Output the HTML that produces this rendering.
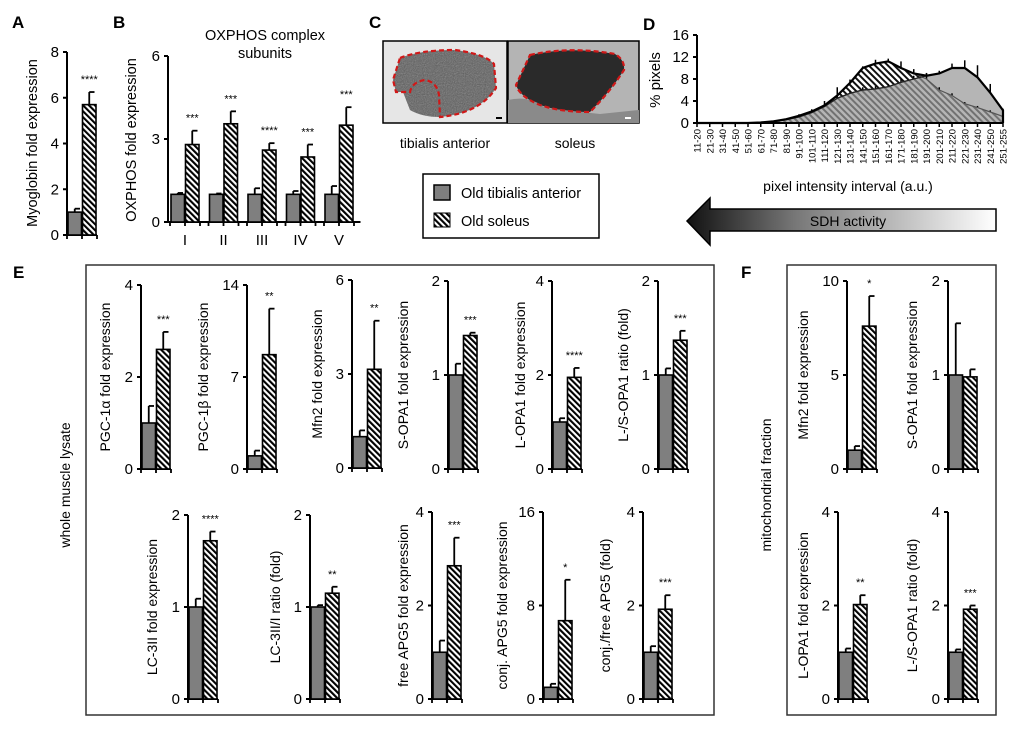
<!DOCTYPE html>
<html><head><meta charset="utf-8"><style>
html,body{margin:0;padding:0;background:#fff;}
svg{display:block;font-family:"Liberation Sans",Arial,sans-serif;}
</style></head><body>
<svg id="fig" width="1020" height="730" viewBox="0 0 1020 730" xmlns="http://www.w3.org/2000/svg">
<defs>
<pattern id="hatch" patternUnits="userSpaceOnUse" width="4.2" height="4.2" patternTransform="rotate(-45)">
<rect width="4.2" height="4.2" fill="#fff"/><rect width="2.1" height="4.2" fill="#000"/></pattern>
<pattern id="hatchD" patternUnits="userSpaceOnUse" width="4.5" height="4.5" patternTransform="rotate(-45)">
<rect width="4.5" height="4.5" fill="#fff"/><rect width="2" height="4.5" fill="#111"/></pattern>
<linearGradient id="arrowGrad" x1="0" x2="1" y1="0" y2="0"><stop offset="0" stop-color="#111"/><stop offset="0.35" stop-color="#777"/><stop offset="1" stop-color="#fff"/></linearGradient>
<filter id="noise" x="0" y="0" width="100%" height="100%"><feTurbulence type="fractalNoise" baseFrequency="0.9" numOctaves="2" result="n"/><feColorMatrix type="saturate" values="0"/><feComponentTransfer><feFuncA type="table" tableValues="0 0.5"/></feComponentTransfer><feComposite in2="SourceGraphic" operator="in"/></filter>
</defs>

<g font-weight="bold" font-size="17">
<text x="12" y="28">A</text>
<text x="113" y="28">B</text>
<text x="369" y="28">C</text>
<text x="643" y="30">D</text>
<text x="13" y="278">E</text>
<text x="741" y="278">F</text>
</g>

<g>
<rect x="383" y="41" width="124" height="82" fill="#e6e6e6" stroke="#000" stroke-width="1.5"/>
<path d="M400,58 Q420,50 455,50 Q485,54 494,64 L496,88 Q480,113 440,117 Q422,117 410,110 L403,92 L396,92 L393,80 Z" fill="#5a5a5a"/>
<path d="M400,58 Q420,50 455,50 Q485,54 494,64 L496,88 Q480,113 440,117 Q422,117 410,110 L403,92 L396,92 L393,80 Z" fill="#fff" filter="url(#noise)"/>
<path d="M400,58 Q420,50 455,50 Q485,54 494,64 L496,88 Q480,113 440,117 L439,95 Q437,82 425,80 Q412,82 410,92 L403,92 L396,92 L393,80 Z" fill="none" stroke="#d01818" stroke-width="2.2" stroke-dasharray="5,3"/>
<rect x="496" y="117" width="6" height="2" fill="#000"/>
</g>
<g>
<rect x="508" y="41" width="131" height="82" fill="#b4b4b4" stroke="#000" stroke-width="1.5"/>
<path d="M530,55 Q570,46 615,54 Q625,60 624,70 Q610,92 590,112 Q560,112 540,105 Q520,97 516,85 Z" fill="#2a2a2a"/>
<path d="M508,100 Q530,95 545,108 L600,114 L639,110 L639,123 L508,123 Z" fill="#8a8a8a"/>
<path d="M530,55 Q570,46 615,54 Q625,60 624,70 Q610,92 590,112 Q560,112 540,105 Q520,97 516,85 Z" fill="none" stroke="#d01818" stroke-width="2.2" stroke-dasharray="5,3"/>
<rect x="625" y="117" width="6" height="2" fill="#fff"/>
</g>
<text x="445" y="148" text-anchor="middle" font-size="14">tibialis anterior</text>
<text x="575" y="148" text-anchor="middle" font-size="14">soleus</text>

<g>
<rect x="423" y="174" width="176" height="64" fill="#fff" stroke="#000" stroke-width="1.5"/>
<g>
<rect x="434" y="185" width="16" height="15" fill="#7f7f7f" stroke="#000" stroke-width="1.5"/>
<text x="461" y="198" font-size="14.5">Old tibialis anterior</text></g>
<g>
<rect x="434" y="213" width="16" height="14" fill="url(#hatch)" stroke="#000" stroke-width="1"/>
<text x="461" y="226" font-size="14.5">Old soleus</text></g>
</g>

<g>
<path d="M687,221 L710,198 L710,209 L996,209 L996,231 L710,231 L710,245 Z" fill="url(#arrowGrad)" stroke="#000" stroke-width="1.5"/>
<text x="848" y="226" text-anchor="middle" font-size="14">SDH activity</text>
</g>

<rect x="86" y="265" width="628" height="450" fill="none" stroke="#333" stroke-width="1.5"/>
<rect x="787" y="265" width="209" height="450" fill="none" stroke="#333" stroke-width="1.5"/>
<text transform="translate(70,485) rotate(-90)" text-anchor="middle" font-size="14">whole muscle lysate</text>
<text transform="translate(771,485) rotate(-90)" text-anchor="middle" font-size="14">mitochondrial fraction</text>

<g id="charts"></g>
<g id="histD"></g>
</svg>
<script>
const dCategories = ["11-20","21-30","31-40","41-50","51-60","61-70","71-80","81-90","91-100","101-110","111-120","121-130","131-140","141-150","151-160","161-170","171-180","181-190","191-200","201-210","211-220","221-230","231-240","241-250","251-255"];
const dTibialis = [0,0,0,0,0,0.1,0.3,0.6,1.1,1.9,3,4.5,5.4,6,6.2,6.6,7.4,8,8.6,9,10,10,8.3,5.5,2.3];
const dTibialisErr = [0,0,0,0,0,0,0,0,0.2,0.3,0.4,0.5,0.5,0.5,0.5,0.5,0.6,0.6,0.5,0.5,0.8,1.4,2.2,1.6,0.3];
const dSoleus = [0,0,0,0,0,0.1,0.3,0.7,1.3,2.1,3.2,5,7.3,10,10.8,11.2,10,9,8,6,5,3.5,2.8,2,1.2];
const dSoleusErr = [0,0,0,0,0,0,0,0.1,0.3,0.4,0.8,1.5,0.6,0.3,0.7,0.5,1.2,0.8,1,0.5,0.4,0.3,0.3,0.3,0.3];
const dTicks = [0,4,8,12,16];

const aGroups = ["Myoglobin"];
const aTibialis = [1]; const aTibialisErr = [0.15];
const aSoleus = [5.7]; const aSoleusErr = [0.55];
const aStars = ["****"];
const aTicks = [0,2,4,6,8];

const bCategories = ["I","II","III","IV","V"];
const bTibialis = [1,1,1,1,1];
const bTibialisErr = [0.05,0.03,0.22,0.12,0.3];
const bSoleus = [2.8,3.55,2.6,2.35,3.5];
const bSoleusErr = [0.5,0.45,0.25,0.45,0.65];
const bStars = ["***","***","****","***","***"];
const bTicks = [0,3,6];

const miniTitles = ["PGC-1α fold expression","PGC-1β fold expression","Mfn2 fold expression","S-OPA1 fold expression","L-OPA1 fold expression","L-/S-OPA1 ratio (fold)","Mfn2 fold expression","S-OPA1 fold expression","LC-3II fold expression","LC-3II/I ratio (fold)","free APG5 fold expression","conj. APG5 fold expression","conj./free APG5 (fold)","L-OPA1 fold expression","L-/S-OPA1 ratio (fold)"];
const miniMax = [4,14,6,2,4,2,10,2,2,2,4,16,4,4,4];
const miniTibialis = [1,1,1,1,1,1,1,1,1,1,1,1,1,1,1];
const miniTibialisErr = [0.37,0.4,0.2,0.12,0.08,0.07,0.22,0.55,0.09,0.02,0.25,0.3,0.13,0.08,0.06];
const miniSoleus = [2.6,8.7,3.15,1.42,1.95,1.37,7.6,0.98,1.72,1.15,2.85,6.7,1.92,2.02,1.92];
const miniSoleusErr = [0.38,3.5,1.55,0.03,0.2,0.1,1.6,0.08,0.1,0.07,0.6,3.5,0.3,0.2,0.08];
const miniStars = ["***","**","**","***","****","***","*","","****","**","***","*","***","**","***"];

const miniLayout = [
 [141,469,285,-31],[247,469,285,-39],[352,468,280,-30],[448,469,281,-40],[552,469,281,-27],[658,469,281,-30],[847,469,281,-39],[948,469,281,-31],
 [188,699,515,-31],[310,699,515,-30],[432,699,512,-24],[543,699,512,-36],[643,699,512,-33],[838,699,512,-30],[948,699,512,-31]];

const NS = "http://www.w3.org/2000/svg";
function mk(parent, tag, attrs, text){
  const e = document.createElementNS(NS, tag);
  for (const k in attrs) e.setAttribute(k, attrs[k]);
  if (text !== undefined) e.textContent = text;
  parent.appendChild(e); return e;
}
function linScale(d0,d1,r0,r1){ return v => r0 + (v-d0)/(d1-d0)*(r1-r0); }

function drawYAxis(g, ax, y, ticks, fs){
  const top = y(ticks[ticks.length-1]), bot = y(ticks[0]);
  const ln = mk(g,'line',{x1:ax,x2:ax,y1:top,y2:bot,stroke:'#000','stroke-width':2});
  
  
  ticks.forEach(t=>{
    mk(g,'line',{x1:ax-4,x2:ax,y1:y(t),y2:y(t),stroke:'#000','stroke-width':2});
    const tl = mk(g,'text',{x:ax-8,y:y(t)+5,'text-anchor':'end','font-size':fs},String(t));
    
    
  });
}
function drawPair(g, x0, y, tv, te, sv, se, star){
  const bw = 13.5;
  const gb = mk(g,'rect',{x:x0+1,y:y(tv),width:bw,height:y(0)-y(tv),fill:'#7f7f7f',stroke:'#000','stroke-width':1.6});
  
  
  mk(g,'line',{x1:x0+7.75,x2:x0+7.75,y1:y(tv),y2:y(tv+te),stroke:'#000','stroke-width':1.8});
  mk(g,'line',{x1:x0+7.75,x2:x0+13,y1:y(tv+te),y2:y(tv+te),stroke:'#000','stroke-width':1.8});
  const sx = x0+bw+2;
  const hb = mk(g,'rect',{x:sx,y:y(sv),width:bw,height:y(0)-y(sv),fill:'url(#hatch)',stroke:'#000','stroke-width':1.6});
  
  
  mk(g,'line',{x1:sx+6.75,x2:sx+6.75,y1:y(sv),y2:y(sv+se),stroke:'#000','stroke-width':1.8});
  mk(g,'line',{x1:sx+6.75,x2:sx+12,y1:y(sv+se),y2:y(sv+se),stroke:'#000','stroke-width':1.8});
  if (star){
    const st = mk(g,'text',{x:sx+6.75,y:y(sv+se)-9,'text-anchor':'middle','font-size':11},star);
    
    
  }
}
function xAxisPair(g, ax, y0){
  mk(g,'line',{x1:ax,x2:ax+30,y1:y0,y2:y0,stroke:'#000','stroke-width':2});
  [0,15,30].forEach(d=>mk(g,'line',{x1:ax+d,x2:ax+d,y1:y0,y2:y0+4,stroke:'#000','stroke-width':1.8}));
}

const charts = document.getElementById('charts');

(function(){
  const g = mk(charts,'g',{});
  
  
  const ax=67, y = linScale(0,8,235,52);
  drawYAxis(g,ax,y,aTicks,15);
  xAxisPair(g,ax,235);
  aGroups.forEach((c,i)=>drawPair(g,ax,y,aTibialis[i],aTibialisErr[i],aSoleus[i],aSoleusErr[i],aStars[i]));
  const t = mk(g,'text',{transform:'translate(37,143) rotate(-90)','text-anchor':'middle','font-size':14.5},'Myoglobin fold expression');
  
  
})();

(function(){
  const g = mk(charts,'g',{});
  
  
  const ax=168, y = linScale(0,6,222,56), step=38.5;
  drawYAxis(g,ax,y,bTicks,15);
  mk(g,'line',{x1:ax,x2:ax+step*bCategories.length,y1:222,y2:222,stroke:'#000','stroke-width':2});
  bCategories.forEach((c,i)=>{
    const gx = ax+2+i*step;
    [0,15,30].forEach(d=>mk(g,'line',{x1:gx+d,x2:gx+d,y1:222,y2:226,stroke:'#000','stroke-width':1.8}));
    drawPair(g,gx,y,bTibialis[i],bTibialisErr[i],bSoleus[i],bSoleusErr[i],bStars[i]);
    const tl = mk(g,'text',{x:gx+15,y:245,'text-anchor':'middle','font-size':15},c);
    
    
  });
  const t = mk(g,'text',{transform:'translate(136,140) rotate(-90)','text-anchor':'middle','font-size':14.5},'OXPHOS fold expression');
  
  
  const t1 = mk(g,'text',{x:265,y:40,'text-anchor':'middle','font-size':14.5},'OXPHOS complex');
  
  
  const t2 = mk(g,'text',{x:265,y:58,'text-anchor':'middle','font-size':14.5},'subunits');
  
  
})();

miniTitles.forEach((title,i)=>{
  const [ax,y0,yt,toff] = miniLayout[i];
  const g = mk(charts,'g',{});
  
  
  const mx = miniMax[i];
  const y = linScale(0,mx,y0,yt);
  drawYAxis(g,ax,y,[0,mx/2,mx],15);
  xAxisPair(g,ax,y0);
  drawPair(g,ax,y,miniTibialis[i],miniTibialisErr[i],miniSoleus[i],miniSoleusErr[i],miniStars[i]);
  const t = mk(g,'text',{transform:'translate('+(ax+toff)+','+((y0+yt)/2)+') rotate(-90)','text-anchor':'middle','font-size':14},title);
  
  
});

(function(){
  const g = document.getElementById('histD');
  
  
  const x0=697, x1=1003, n=dCategories.length;
  const x = i => x0 + i*(x1-x0)/(n-1);
  const y = linScale(0,16,123,35);
  const pts = arr => arr.map((v,i)=>x(i)+','+y(v)).join(' L');
  const area = arr => 'M'+x(0)+','+y(0)+' L'+pts(arr)+' L'+x(n-1)+','+y(0)+' Z';
  const so = mk(g,'path',{d:area(dSoleus),fill:'url(#hatchD)'});
  
  
  const ta = mk(g,'path',{d:area(dTibialis),fill:'#999','fill-opacity':0.72});
  
  
  dTibialis.forEach((v,i)=>{ if(dTibialisErr[i]>0) mk(g,'line',{x1:x(i),x2:x(i),y1:y(v),y2:y(v+dTibialisErr[i]),stroke:'#000','stroke-width':1.5}); });
  dSoleus.forEach((v,i)=>{ if(dSoleusErr[i]>0) mk(g,'line',{x1:x(i),x2:x(i),y1:y(v),y2:y(v+dSoleusErr[i]),stroke:'#000','stroke-width':1.5}); });
  const sl = mk(g,'path',{d:'M'+pts(dSoleus),fill:'none',stroke:'#555','stroke-width':1.2});
  
  
  const tl = mk(g,'path',{d:'M'+pts(dTibialis),fill:'none',stroke:'#222','stroke-width':1.4});
  
  
  const env = dSoleus.map((v,i)=>Math.max(v,dTibialis[i]));
  const el = mk(g,'path',{d:'M'+pts(env)+' L'+x(n-1)+','+y(0),fill:'none',stroke:'#000','stroke-width':2.2});
  
  
  drawYAxis(g,x0,y,dTicks,15);
  mk(g,'line',{x1:x0,x2:x1,y1:123,y2:123,stroke:'#000','stroke-width':2});
  dCategories.forEach((c,i)=>{
    mk(g,'line',{x1:x(i),x2:x(i),y1:123,y2:127,stroke:'#000','stroke-width':1.5});
    const t = mk(g,'text',{transform:'translate('+(x(i)+3.5)+',129) rotate(-90)','text-anchor':'end','font-size':9.5},c);
    
    
  });
  const yt = mk(g,'text',{transform:'translate(660,80) rotate(-90)','text-anchor':'middle','font-size':15},'% pixels');
  
  
  const xt = mk(g,'text',{x:848,y:191,'text-anchor':'middle','font-size':14},'pixel intensity interval (a.u.)');
  
  
})();
</script>
</body></html>
